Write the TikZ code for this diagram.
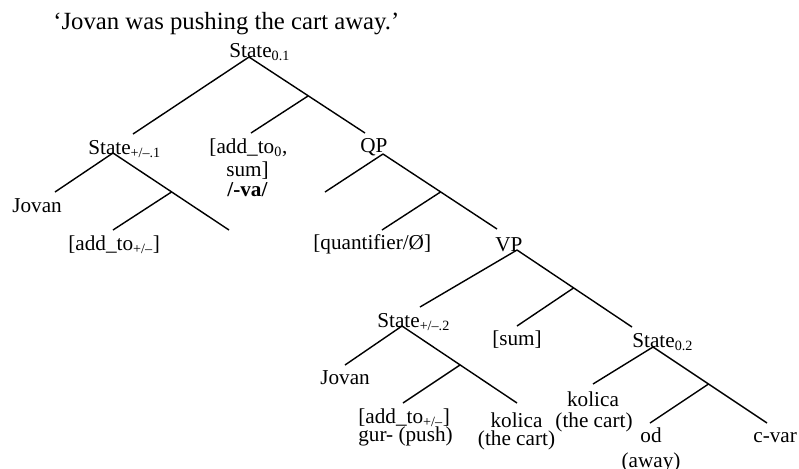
\documentclass[tikz,border=0pt]{standalone}
\usepackage{fontspec}
\setmainfont{Liberation Serif}
\tikzset{
    word/.style={inner sep=0pt, anchor=base west, font=\fontsize{12}{14}\selectfont},
    gloss/.style={word, anchor=base},
    headline/.style={inner sep=0pt, anchor=base west, font=\fontsize{14}{17}\selectfont},
    branch/.style={line width=0.8pt},
}

\begin{document}
\begin{tikzpicture}[x=0.566pt, y=-0.566pt]
    \useasboundingbox (0,0) rectangle (799,468);

    \node[headline] (title) at (53,29) {‘Jovan was pushing the cart away.’};

    % top level
    \node[word] (state01) at (229,57) {State\textsubscript{0.1}};
    \node[word] (state1) at (88,154) {State\textsubscript{+/–.1}};
    \node[gloss] (addtoO) at (248.5,153) {[add\_to\textsubscript{0},};
    \node[gloss] (sumO) at (247.5,176) {sum]};
    \node[gloss] (va) at (247.5,196) {\textbf{/-va/}};
    \node[word] (qp) at (360,152) {QP};
    \coordinate (root) at (249,57);
    \coordinate (rootL) at (133,134);
    \coordinate (rootR) at (365,133);
    \coordinate (rootM) at (308,96);
    \coordinate (rootML) at (251,133);
    \draw[branch] (root) -- (rootL);
    \draw[branch] (root) -- (rootR);
    \draw[branch] (rootM) -- (rootML);

    % left state
    \node[word] (jovanA) at (12,212) {Jovan};
    \node[word] (addtoA) at (68,250) {[add\_to\textsubscript{+/–}]};
    \coordinate (stA) at (113,153);
    \coordinate (stAL) at (55,192);
    \coordinate (stAR) at (229,230);
    \coordinate (stAM) at (171.5,192);
    \coordinate (stAML) at (113,230);
    \draw[branch] (stA) -- (stAL);
    \draw[branch] (stA) -- (stAR);
    \draw[branch] (stAM) -- (stAML);

    % QP
    \node[word] (quant) at (313,249) {[quantifier/Ø]};
    \node[word] (vp) at (495,251) {VP};
    \coordinate (qpTop) at (383,154);
    \coordinate (qpL) at (325,192);
    \coordinate (qpR) at (497,229);
    \coordinate (qpM) at (440.5,192);
    \coordinate (qpML) at (382,230);
    \draw[branch] (qpTop) -- (qpL);
    \draw[branch] (qpTop) -- (qpR);
    \draw[branch] (qpM) -- (qpML);

    % VP
    \node[word] (state2) at (377,327) {State\textsubscript{+/–.2}};
    \node[gloss] (sumV) at (517,345) {[sum]};
    \node[word] (state02) at (632,347) {State\textsubscript{0.2}};
    \coordinate (vpTop) at (517,250);
    \coordinate (vpL) at (420,307);
    \coordinate (vpR) at (632,327);
    \coordinate (vpM) at (573.5,288);
    \coordinate (vpML) at (517,326);
    \draw[branch] (vpTop) -- (vpL);
    \draw[branch] (vpTop) -- (vpR);
    \draw[branch] (vpM) -- (vpML);

    % lower left state
    \node[word] (jovanB) at (320,384) {Jovan};
    \node[word] (addtoB) at (358,423) {[add\_to\textsubscript{+/–}]};
    \node[word] (gur) at (358,441) {gur- (push)};
    \node[gloss] (kolicaB) at (516.5,427) {kolica};
    \node[gloss] (cartB) at (516.5,445) {(the cart)};
    \coordinate (stB) at (402,326);
    \coordinate (stBL) at (345,365);
    \coordinate (stBR) at (517,403);
    \coordinate (stBM) at (460,365);
    \coordinate (stBML) at (403,403);
    \draw[branch] (stB) -- (stBL);
    \draw[branch] (stB) -- (stBR);
    \draw[branch] (stBM) -- (stBML);

    % lower right state
    \node[gloss] (kolicaC) at (593,406) {kolica};
    \node[gloss] (cartC) at (594,427) {(the cart)};
    \node[gloss] (od) at (651,442) {od};
    \node[gloss] (away) at (651,467) {(away)};
    \node[word] (cvar) at (753,442) {c-var};
    \coordinate (stC) at (653,347);
    \coordinate (stCL) at (593,384);
    \coordinate (stCR) at (767,423);
    \coordinate (stCM) at (708.5,384);
    \coordinate (stCML) at (650,423);
    \draw[branch] (stC) -- (stCL);
    \draw[branch] (stC) -- (stCR);
    \draw[branch] (stCM) -- (stCML);

\end{tikzpicture}
\end{document}
